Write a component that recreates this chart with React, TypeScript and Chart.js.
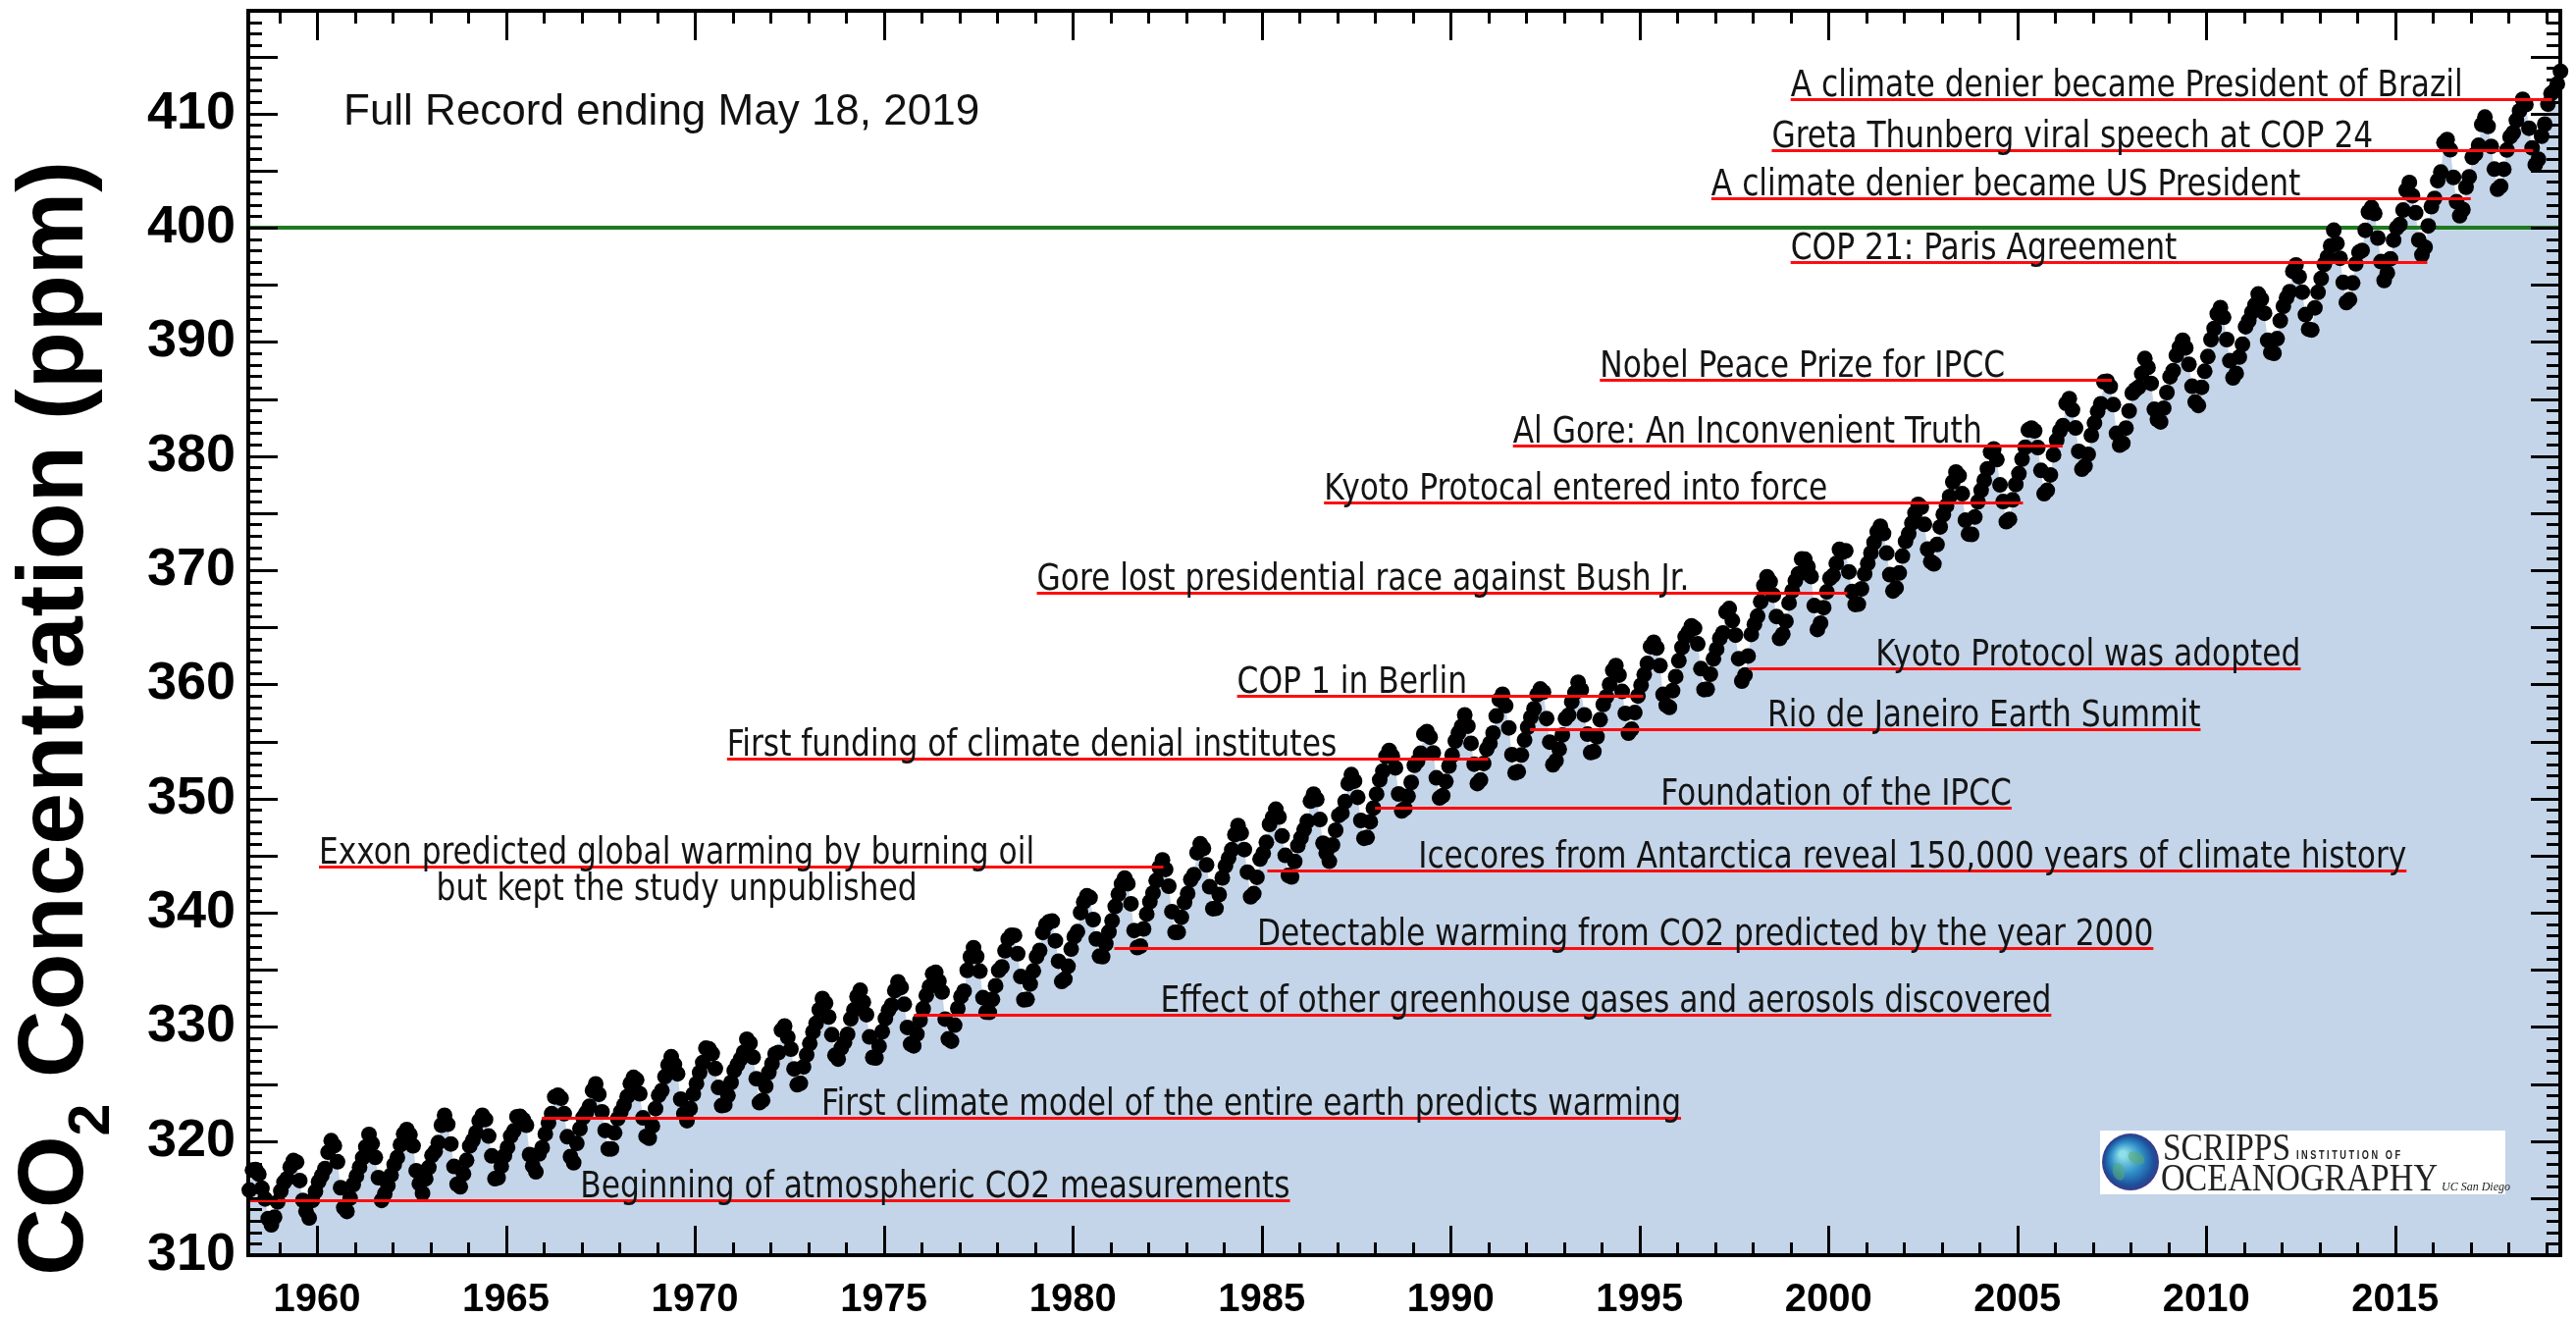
import React, { useEffect, useRef } from "react";
import { Chart, registerables } from "chart.js";

Chart.register(...registerables);

// ---------------- DATA ----------------
// Monthly mean CO2 (ppm), consecutive months starting March 1958
const FIRST_YEAR = 1958;
const FIRST_MONTH = 3;

const co2_1958_1959 = [
  315.71, 317.45, 317.5, 317.1, 315.86, 314.93, 313.2, 312.66, 313.33, 314.67,
  315.62, 316.38, 316.71, 317.72, 318.29, 318.15, 316.54, 314.8, 313.84, 313.26, 314.8, 315.58,
];
const co2_1960s = [
  316.43, 316.97, 317.58, 319.02, 320.03, 319.59, 318.18, 315.91, 314.16, 313.83, 315.0, 316.19,
  316.93, 317.7, 318.54, 319.48, 320.58, 319.77, 318.57, 316.79, 314.8, 315.38, 316.1, 317.01,
  317.94, 318.56, 319.68, 320.63, 321.01, 320.55, 319.58, 317.4, 316.26, 315.42, 316.69, 317.69,
  318.74, 319.08, 319.86, 321.39, 322.25, 321.47, 319.74, 317.77, 316.21, 315.99, 317.12, 318.31,
  319.57, 320.07, 320.73, 321.77, 322.25, 321.89, 320.44, 318.7, 316.7, 316.79, 317.79, 318.71,
  319.44, 320.44, 320.89, 322.13, 322.16, 321.87, 321.39, 318.81, 317.81, 317.3, 318.87, 319.42,
  320.62, 321.59, 322.39, 323.87, 324.01, 323.75, 322.39, 320.37, 318.64, 318.1, 319.79, 321.08,
  322.07, 322.5, 323.04, 324.42, 325.0, 324.09, 322.55, 320.92, 319.31, 319.31, 320.72, 321.96,
  322.57, 323.15, 323.89, 325.02, 325.57, 325.36, 324.14, 322.03, 320.41, 320.25, 321.31, 322.84,
  324.0, 324.42, 325.64, 326.66, 327.38, 326.7, 325.89, 323.67, 322.38, 321.78, 322.85, 324.11,
];
const co2_1970s = [
  325.03, 325.99, 326.87, 328.13, 328.07, 327.66, 326.35, 324.69, 323.1, 323.16, 323.98, 325.13,
  326.17, 326.68, 327.18, 327.78, 328.92, 328.57, 327.34, 325.46, 323.36, 323.57, 324.8, 326.01,
  326.77, 327.63, 327.75, 329.72, 330.07, 329.09, 328.05, 326.32, 324.93, 325.06, 326.5, 327.55,
  328.54, 329.56, 330.3, 331.5, 332.48, 332.07, 330.87, 329.31, 327.51, 327.18, 328.16, 328.64,
  329.35, 330.71, 331.48, 332.65, 333.2, 332.16, 331.07, 329.12, 327.32, 327.28, 328.3, 329.58,
  330.73, 331.46, 331.9, 333.17, 333.94, 333.45, 331.98, 329.95, 328.5, 328.34, 329.37, 330.58,
  331.59, 332.75, 333.52, 334.64, 334.77, 334.0, 333.06, 330.68, 328.95, 328.75, 330.15, 331.62,
  332.66, 333.13, 334.95, 336.13, 336.93, 336.17, 334.88, 332.56, 331.29, 331.27, 332.41, 333.6,
  334.95, 335.25, 336.66, 337.69, 338.03, 338.01, 336.41, 334.41, 332.37, 332.41, 333.75, 334.9,
  336.14, 336.69, 338.27, 338.95, 339.21, 339.26, 337.54, 335.75, 333.98, 334.19, 335.31, 336.81,
];
const co2_1980s = [
  337.9, 338.34, 340.01, 340.93, 341.48, 341.33, 339.4, 337.7, 336.19, 336.15, 337.27, 338.32,
  339.29, 340.55, 341.62, 342.53, 343.03, 342.54, 340.78, 338.44, 336.95, 337.08, 338.58, 339.88,
  340.96, 341.73, 342.81, 343.97, 344.63, 343.79, 342.32, 340.09, 338.28, 338.29, 339.6, 340.9,
  341.68, 342.9, 343.33, 345.25, 346.03, 345.63, 344.19, 342.27, 340.35, 340.38, 341.59, 343.05,
  344.1, 344.79, 345.52, 346.84, 347.63, 346.97, 345.53, 343.55, 341.4, 341.67, 343.1, 344.7,
  345.21, 346.16, 347.74, 348.34, 349.06, 348.38, 346.72, 345.02, 343.27, 343.13, 344.49, 345.88,
  346.56, 347.28, 348.01, 349.77, 350.38, 349.93, 348.16, 346.08, 345.22, 344.51, 345.93, 347.22,
  348.52, 348.73, 349.73, 351.31, 352.09, 351.53, 350.11, 348.08, 346.52, 346.59, 347.96, 349.16,
  350.39, 351.64, 352.41, 353.69, 354.21, 353.72, 352.69, 350.4, 348.92, 349.13, 350.2, 351.41,
  352.91, 353.27, 353.96, 355.64, 355.86, 355.37, 353.99, 351.81, 350.05, 350.25, 351.49, 352.85,
];
const co2_1990s = [
  353.8, 355.04, 355.73, 356.32, 357.32, 356.34, 354.84, 353.01, 351.31, 351.62, 353.07, 354.33,
  354.84, 355.73, 357.23, 358.66, 359.13, 358.13, 356.19, 353.85, 352.25, 352.35, 353.81, 355.12,
  356.25, 357.11, 357.86, 359.09, 359.59, 359.33, 357.01, 354.94, 352.96, 353.32, 354.32, 355.57,
  357.0, 357.31, 358.47, 359.27, 360.19, 359.52, 357.33, 355.64, 354.03, 354.12, 355.41, 356.91,
  358.24, 358.92, 359.99, 361.23, 361.65, 360.81, 359.38, 357.46, 355.73, 356.07, 357.53, 358.98,
  359.92, 360.86, 361.83, 363.3, 363.69, 363.19, 361.64, 359.12, 358.17, 357.99, 359.45, 360.68,
  362.07, 363.24, 364.17, 364.57, 365.13, 364.92, 363.55, 361.38, 359.54, 359.58, 360.89, 362.24,
  363.09, 364.03, 364.51, 366.35, 366.64, 365.59, 364.31, 362.25, 360.29, 360.82, 362.49, 364.38,
  365.26, 365.98, 367.24, 368.66, 369.42, 368.99, 367.82, 365.95, 364.02, 364.4, 365.52, 367.13,
  368.18, 369.07, 369.68, 370.99, 370.96, 370.3, 369.45, 366.9, 364.81, 365.37, 366.72, 368.1,
];
const co2_2000s = [
  369.29, 369.54, 370.6, 371.82, 371.58, 371.7, 369.86, 368.13, 367.0, 367.03, 368.37, 369.67,
  370.59, 371.51, 372.43, 373.37, 373.85, 373.22, 371.5, 369.61, 368.18, 368.45, 369.76, 371.24,
  372.53, 373.2, 374.12, 375.02, 375.76, 375.52, 374.01, 371.85, 370.75, 370.55, 372.25, 373.79,
  374.88, 375.64, 376.45, 377.73, 378.6, 378.28, 376.7, 374.38, 373.17, 373.14, 374.66, 375.99,
  377.0, 377.87, 378.88, 380.35, 380.62, 379.69, 377.47, 376.01, 374.25, 374.46, 376.16, 377.51,
  378.46, 379.73, 380.77, 382.29, 382.45, 382.21, 380.74, 378.74, 376.7, 377.0, 378.35, 380.11,
  381.38, 382.19, 382.67, 384.61, 385.03, 384.05, 382.46, 380.41, 378.85, 379.13, 380.15, 381.82,
  382.89, 383.9, 384.58, 386.5, 386.56, 386.1, 384.5, 381.99, 380.96, 381.12, 382.45, 383.95,
  385.52, 385.82, 386.03, 387.21, 388.54, 387.76, 386.36, 384.09, 383.18, 382.99, 384.19, 385.56,
  386.94, 387.48, 388.82, 389.55, 390.14, 389.48, 388.03, 386.11, 384.74, 384.43, 386.02, 387.42,
];
const co2_2010s = [
  388.71, 390.2, 391.17, 392.46, 393.0, 392.15, 390.2, 388.35, 386.85, 387.24, 388.67, 389.79,
  391.33, 391.86, 392.6, 393.25, 394.19, 393.74, 392.51, 390.13, 389.08, 389.0, 390.28, 391.86,
  393.12, 393.86, 394.4, 396.18, 396.74, 395.71, 394.36, 392.39, 391.11, 391.05, 392.98, 394.34,
  395.55, 396.8, 397.43, 398.41, 399.78, 398.61, 397.32, 395.2, 393.45, 393.7, 395.16, 396.84,
  397.85, 398.01, 399.77, 401.38, 401.78, 401.25, 399.1, 397.03, 395.38, 396.03, 397.28, 398.91,
  399.98, 400.28, 401.54, 403.28, 403.96, 402.8, 401.31, 398.93, 397.63, 398.29, 400.16, 401.85,
  402.56, 404.12, 404.87, 407.45, 407.72, 406.83, 404.41, 402.27, 401.05, 401.59, 403.55, 404.45,
  406.17, 406.46, 407.22, 409.04, 409.69, 408.88, 407.12, 405.13, 403.37, 403.63, 405.12, 406.81,
  407.96, 408.32, 409.41, 410.24, 411.24, 410.79, 408.71, 406.99, 405.51, 406.0, 408.02, 409.07,
  410.83, 411.75, 411.97, 412.6, 413.7,
];

// Axis ranges / ticks
const X_MIN = 1958.18;
const X_MAX = 2019.37;
const Y_MIN = 310;
const Y_MAX = 419;
const X_LABEL_STEP = 5;
const Y_LABEL_STEP = 10;
const THRESHOLD_PPM = 400;

// Annotations (events)
const annotLabels: string[][] = [
  ["A climate denier became President of Brazil"],
  ["Greta Thunberg viral speech at COP 24"],
  ["A climate denier became US President"],
  ["COP 21: Paris Agreement"],
  ["Nobel Peace Prize for IPCC"],
  ["Al Gore: An Inconvenient Truth"],
  ["Kyoto Protocal entered into force"],
  ["Gore lost presidential race against Bush Jr."],
  ["Kyoto Protocol was adopted"],
  ["COP 1 in Berlin"],
  ["Rio de Janeiro Earth Summit"],
  ["First funding of climate denial institutes"],
  ["Foundation of the IPCC"],
  ["Exxon predicted global warming by burning oil", "but kept the study unpublished"],
  ["Icecores from Antarctica reveal 150,000 years of climate history"],
  ["Detectable warming from CO2 predicted by the year 2000"],
  ["Effect of other greenhouse gases and aerosols discovered"],
  ["First climate model of the entire earth predicts warming"],
  ["Beginning of atmospheric CO2 measurements"],
];
const annotPpm = [
  411.3, 406.8, 402.6, 397.0, 386.7, 380.9, 375.9, 368.0, 361.4, 359.0,
  356.1, 353.5, 349.2, 344.05, 343.7, 336.9, 331.1, 322.0, 314.85,
];
const annotFromYear = [
  1999.0, 1998.5, 1996.9, 1999.0, 1993.95, 1991.65, 1986.65, 1979.05, 1997.9, 1984.35,
  1992.1, 1970.85, 1988.0, 1960.05, 1985.15, 1981.1, 1975.8, 1965.95, 1958.2,
];
const annotToYear = [
  2019.15, 2018.65, 2017.0, 2015.85, 2007.5, 2006.2, 2005.15, 2000.5, 2012.5, 1995.1,
  2009.85, 1991.0, 2004.85, 1982.4, 2015.3, 2008.6, 2005.9, 1996.1, 1985.75,
];
const annotAlign: ("left" | "right")[] = [
  "left", "left", "left", "left", "left", "left", "left", "left", "right", "left",
  "right", "left", "right", "left", "right", "right", "right", "right", "right",
];

// ---------------- HELPERS ----------------
const allValues = [
  ...co2_1958_1959, ...co2_1960s, ...co2_1970s, ...co2_1980s, ...co2_1990s, ...co2_2000s, ...co2_2010s,
];
const points = allValues.map((v, i) => {
  const m = FIRST_MONTH - 1 + i;
  const year = FIRST_YEAR + Math.floor(m / 12);
  const month = (m % 12) + 1;
  return { x: year + (month - 0.5) / 12, y: v };
});

const SANS = '"Liberation Sans", Arial, Helvetica, sans-serif';
const NARROW = '"Liberation Sans Narrow", "DejaVu Sans Condensed", "Liberation Sans", sans-serif';
const SERIF = '"Liberation Serif", "DejaVu Serif", serif';
const TEXT_SQUEEZE = 0.94;

const overlayPlugin = {
  id: "overlay",
  afterDatasetsDraw(chart: any) {
    const { ctx, scales } = chart;
    const xs = scales.x;
    const ys = scales.y;
    ctx.save();
    // red event lines
    ctx.strokeStyle = "#ff0d0d";
    ctx.lineWidth = 3;
    annotLabels.forEach((_, i) => {
      const yy = Math.round(ys.getPixelForValue(annotPpm[i])) + 0.5;
      const x0 = xs.getPixelForValue(annotFromYear[i]);
      const x1 = xs.getPixelForValue(annotToYear[i]);
      ctx.beginPath();
      ctx.moveTo(x0, yy);
      ctx.lineTo(x1, yy);
      ctx.stroke();
    });
    // event texts (slightly condensed)
    ctx.fillStyle = "#141414";
    ctx.font = `37px ${NARROW}`;
    ctx.textBaseline = "alphabetic";
    annotLabels.forEach((lines, i) => {
      const yy = ys.getPixelForValue(annotPpm[i]);
      const x0 = xs.getPixelForValue(annotFromYear[i]);
      const x1 = xs.getPixelForValue(annotToYear[i]);
      const w0 = ctx.measureText(lines[0]).width * TEXT_SQUEEZE;
      const left = annotAlign[i] === "left" ? x0 : x1 - w0;
      lines.forEach((line, k) => {
        ctx.save();
        ctx.translate(k === 0 ? left : left + w0 / 2, yy - 3 + 37 * k);
        ctx.scale(TEXT_SQUEEZE, 1);
        ctx.textAlign = k === 0 ? "left" : "center";
        ctx.fillText(line, 0, 0);
        ctx.restore();
      });
    });
    ctx.restore();
  },
  afterDraw(chart: any) {
    const { ctx, chartArea: a, scales } = chart;
    const xs = scales.x;
    const ys = scales.y;
    ctx.save();
    // tick marks on all four sides, inward
    ctx.strokeStyle = "#000";
    ctx.lineWidth = 3;
    ctx.beginPath();
    for (let yr = Math.ceil(xs.min); yr <= xs.max; yr++) {
      const px = Math.round(xs.getPixelForValue(yr)) + 0.5;
      const len = yr % 5 === 0 ? 30 : 13;
      ctx.moveTo(px, a.bottom);
      ctx.lineTo(px, a.bottom - len);
      ctx.moveTo(px, a.top);
      ctx.lineTo(px, a.top + len);
    }
    for (let v = Math.ceil(ys.min); v <= ys.max; v++) {
      const py = Math.round(ys.getPixelForValue(v)) + 0.5;
      const len = v % 5 === 0 ? 30 : 14;
      ctx.moveTo(a.left, py);
      ctx.lineTo(a.left + len, py);
      ctx.moveTo(a.right, py);
      ctx.lineTo(a.right - len, py);
    }
    ctx.stroke();
    ctx.lineWidth = 4;
    ctx.strokeRect(a.left, a.top, a.right - a.left, a.bottom - a.top);

    // record note
    ctx.fillStyle = "#111";
    ctx.font = `44px ${SANS}`;
    ctx.textAlign = "left";
    ctx.textBaseline = "alphabetic";
    ctx.fillText("Full Record ending May 18, 2019", a.left + 97, a.top + 116);

    // y-axis title with subscript
    const F = 95;
    const big = `bold ${F}px ${SANS}`;
    const small = `bold ${Math.round(F * 0.62)}px ${SANS}`;
    ctx.font = big;
    const wCO = ctx.measureText("CO").width;
    const wRest = ctx.measureText(" Concentration (ppm)").width;
    ctx.font = small;
    const w2 = ctx.measureText("2").width;
    const total = wCO + w2 + wRest;
    ctx.translate(84, 732);
    ctx.rotate(-Math.PI / 2);
    ctx.fillStyle = "#000";
    let cx = -total / 2;
    ctx.font = big;
    ctx.fillText("CO", cx, 0);
    cx += wCO;
    ctx.font = small;
    ctx.fillText("2", cx, F * 0.28);
    cx += w2;
    ctx.font = big;
    ctx.fillText(" Concentration (ppm)", cx, 0);
    ctx.setTransform(1, 0, 0, 1, 0, 0);

    // Scripps logo
    const lx = a.right - 469;
    const ly = a.bottom - 127;
    ctx.fillStyle = "#ffffff";
    ctx.fillRect(lx, ly, 413, 65);
    const gx = lx + 31;
    const gy = ly + 32;
    const gr = 29;
    const grad = ctx.createRadialGradient(gx - 8, gy - 8, 3, gx, gy, gr);
    grad.addColorStop(0, "#8fe0e8");
    grad.addColorStop(0.5, "#2f8fc8");
    grad.addColorStop(0.85, "#1d4f9a");
    grad.addColorStop(1, "#3a3a86");
    ctx.fillStyle = grad;
    ctx.beginPath();
    ctx.arc(gx, gy, gr, 0, Math.PI * 2);
    ctx.fill();
    ctx.fillStyle = "rgba(90,170,110,0.55)";
    ctx.beginPath();
    ctx.ellipse(gx + 6, gy - 4, 9, 6, 0.5, 0, Math.PI * 2);
    ctx.fill();
    ctx.beginPath();
    ctx.ellipse(gx - 12, gy + 10, 6, 9, -0.3, 0, Math.PI * 2);
    ctx.fill();
    ctx.fillStyle = "#222";
    ctx.textAlign = "left";
    ctx.font = `40px ${SERIF}`;
    ctx.fillText("SCRIPPS", lx + 64, ly + 30, 130);
    ctx.font = `bold 13px ${SANS}`;
    ctx.fillText("I N S T I T U T I O N   O F", lx + 200, ly + 29, 106);
    ctx.font = `40px ${SERIF}`;
    ctx.fillText("OCEANOGRAPHY", lx + 62, ly + 61, 282);
    ctx.font = `italic 12px ${SERIF}`;
    ctx.fillText("UC San Diego", lx + 348, ly + 61);
    ctx.restore();
  },
};

export default function App() {
  const ref = useRef<HTMLCanvasElement | null>(null);
  useEffect(() => {
    if (!ref.current) return;
    const chart = new Chart(ref.current, {
      type: "scatter",
      data: {
        datasets: [
          {
            type: "scatter",
            label: "CO2",
            data: points,
            pointRadius: 8,
            pointBackgroundColor: "#000",
            pointBorderWidth: 0,
            showLine: false,
            clip: false,
            order: 0,
          } as any,
          {
            type: "line",
            label: "400 ppm",
            data: [
              { x: X_MIN, y: THRESHOLD_PPM },
              { x: X_MAX, y: THRESHOLD_PPM },
            ],
            borderColor: "#1f7a1f",
            borderWidth: 4,
            pointRadius: 0,
            fill: false,
            order: 1,
          } as any,
          {
            type: "line",
            label: "area",
            data: points,
            borderWidth: 0,
            borderColor: "rgba(0,0,0,0)",
            backgroundColor: "#c4d5e9",
            pointRadius: 0,
            fill: "start",
            tension: 0,
            order: 2,
          } as any,
        ],
      },
      options: {
        responsive: false,
        animation: false,
        devicePixelRatio: 1,
        layout: { padding: { left: 0, right: 16, top: 11, bottom: 0 } },
        plugins: { legend: { display: false }, tooltip: { enabled: false } },
        scales: {
          x: {
            type: "linear",
            min: X_MIN,
            max: X_MAX,
            grid: { display: false, drawTicks: false },
            border: { display: false },
            afterFit: (s: any) => {
              s.height = 64;
              s.paddingLeft = 0;
              s.paddingRight = 0;
            },
            ticks: {
              stepSize: X_LABEL_STEP,
              includeBounds: false,
              padding: 22,
              color: "#000",
              font: { family: SANS, weight: "bold", size: 40 },
              maxRotation: 0,
              autoSkip: false,
              callback: (v: any) => String(v),
            },
          },
          y: {
            type: "linear",
            min: Y_MIN,
            max: Y_MAX,
            grid: { display: false, drawTicks: false },
            border: { display: false },
            afterFit: (s: any) => {
              s.width = 253;
              s.paddingTop = 0;
              s.paddingBottom = 0;
            },
            ticks: {
              stepSize: Y_LABEL_STEP,
              includeBounds: false,
              padding: 13,
              color: "#000",
              font: { family: SANS, weight: "bold", size: 54 },
              callback: (v: any) => String(v),
            },
          },
        },
      },
      plugins: [overlayPlugin],
    });
    return () => chart.destroy();
  }, []);
  return (
    <div style={{ position: "fixed", left: 0, top: 0, width: 2625, height: 1343, background: "#fff" }}>
      <canvas ref={ref} width={2625} height={1343} style={{ display: "block" }} />
    </div>
  );
}
